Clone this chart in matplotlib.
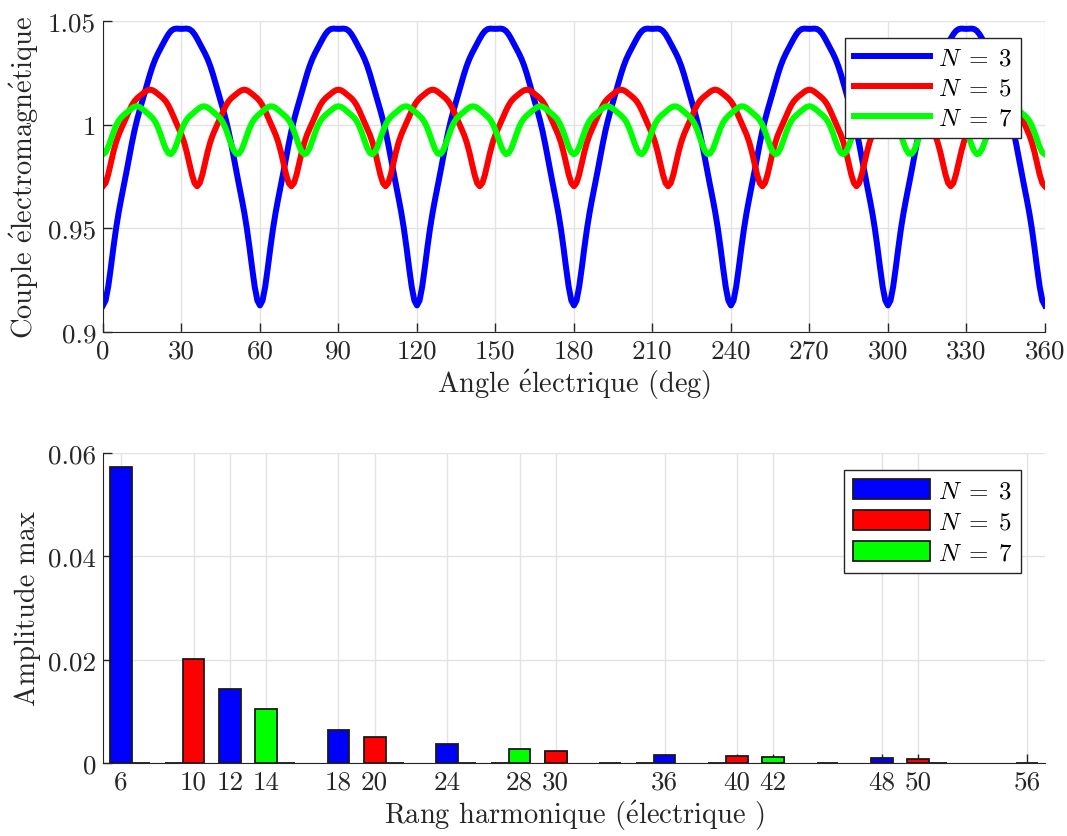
import numpy as np
import matplotlib
matplotlib.use("Agg")
import matplotlib.pyplot as plt

plt.rcParams['font.family'] = ['cmr10', 'DejaVu Serif']
plt.rcParams['mathtext.fontset'] = 'cm'
plt.rcParams['axes.unicode_minus'] = False

# Harmonic spectrum (rank, amplitude) per number of phases
# (N=3 ranks 30 and 42 sit behind the N=5 / N=7 bars of the same rank)
h3 = [6, 12, 18, 24, 30, 36, 42, 48]
a3 = [0.0572, 0.0143, 0.0064, 0.0037, 0.0021, 0.0016, 0.0010, 0.0009]
h5 = [10, 20, 30, 40, 50]
a5 = [0.0201, 0.0051, 0.0024, 0.0013, 0.0008]
h7 = [14, 28, 42, 56]
a7 = [0.0104, 0.0027, 0.0012, 0.0]
zero_bins = [7, 9, 15, 21, 25, 27, 33, 35, 39, 45, 51]

labels = [r'$N\;=\;3$', r'$N\;=\;5$', r'$N\;=\;7$']
colors = ['#0000ff', '#ff0000', '#00ff00']
xticks_bot = [6, 10, 12, 14, 18, 20, 24, 28, 30, 36, 40, 42, 48, 50, 56]

E = r'$\mathrm{\acute{e}}$'

theta = np.arange(0, 361, 1.0)

def torque(h, a):
    t = np.ones_like(theta)
    for hk, ak in zip(h, a):
        t -= ak * np.cos(np.deg2rad(hk * theta))
    return t

fig = plt.figure(figsize=(10.67, 8.37), dpi=100)
ax1 = fig.add_axes([0.0965, 0.6022, 0.8828, 0.3715])
ax2 = fig.add_axes([0.0965, 0.0872, 0.8828, 0.3704])

grid_kw = dict(color='#e3e3e3', linewidth=1.0)
for ax in (ax1, ax2):
    ax.grid(True, **grid_kw)
    ax.set_axisbelow(True)
    ax.spines['top'].set_visible(False)
    ax.spines['right'].set_visible(False)
    ax.spines['left'].set_color('#262626')
    ax.spines['bottom'].set_color('#262626')
    ax.tick_params(direction='in', length=6.5, width=1.0, color='#262626',
                   labelsize=19.5, labelcolor='#262626', pad=5)

for h, a, c, lab in zip([h3, h5, h7], [a3, a5, a7], colors, labels):
    ax1.plot(theta, torque(h, a), color=c, linewidth=4.3, label=lab)
ax1.set_xlim(0, 360)
ax1.set_ylim(0.9, 1.05)
ax1.set_xticks(np.arange(0, 361, 30))
ax1.set_yticks([0.9, 0.95, 1.0, 1.05])
ax1.set_yticklabels(['0.9', '0.95', '1', '1.05'])
ax1.set_xlabel('Angle ' + E + 'lectrique (deg)', fontsize=20.5, color='#262626', labelpad=3)
ax1.set_ylabel('Couple ' + E + 'lectromagn' + E + 'tique', fontsize=20.5,
               color='#262626', labelpad=5)
leg1 = ax1.legend(loc='upper right', bbox_to_anchor=(0.9745, 0.9453), borderaxespad=0,
                  fontsize=18, handlelength=3.05, handletextpad=0.3, framealpha=1,
                  fancybox=False, edgecolor='#262626', borderpad=0.35, labelspacing=0.3)
leg1.get_frame().set_linewidth(1.0)

bw = 1.2
ax2.bar(zero_bins, [0.0] * len(zero_bins), width=bw, color='white',
        edgecolor='#1a1a1a', linewidth=1.3)
for h, a, c, lab in zip([h3, h5, h7], [a3, a5, a7], colors, labels):
    ax2.bar(h, a, width=bw, color=c, edgecolor='#1a1a1a', linewidth=1.3, label=lab)
ax2.set_xlim(5, 57)
ax2.set_ylim(0, 0.06)
ax2.set_xticks(xticks_bot)
ax2.set_yticks([0, 0.02, 0.04, 0.06])
ax2.set_yticklabels(['0', '0.02', '0.04', '0.06'])
ax2.set_xlabel('Rang harmonique (' + E + 'lectrique )', fontsize=20.5, color='#262626', labelpad=3)
ax2.set_ylabel('Amplitude max', fontsize=20.5, color='#262626', labelpad=5)
leg2 = ax2.legend(loc='upper right', bbox_to_anchor=(0.9745, 0.9453), borderaxespad=0,
                  fontsize=18, handlelength=3.1, handleheight=0.85, handletextpad=0.3,
                  framealpha=1, fancybox=False, edgecolor='#262626', borderpad=0.35,
                  labelspacing=0.3)
leg2.get_frame().set_linewidth(1.0)

fig.savefig('out.png', dpi=100)
